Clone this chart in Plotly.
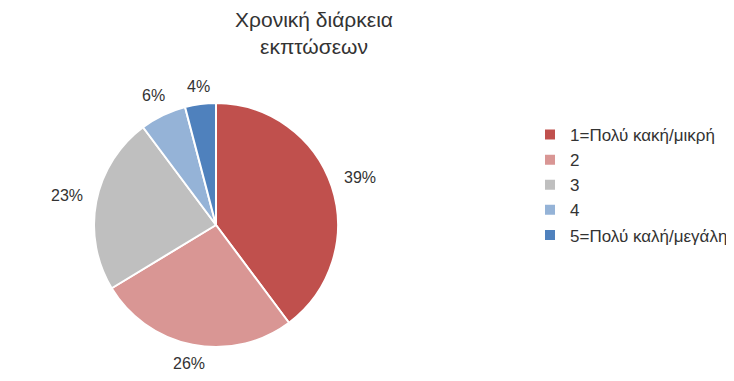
import math
import plotly.graph_objects as go

labels = ["1=Πολύ κακή/μικρή", "2", "3", "4", "5=Πολύ καλή/μεγάλη"]
values = [39, 26, 23, 6, 4]
colors = ["#c0504d", "#d99694", "#bfbfbf", "#95b3d7", "#4f81bd"]

W, H = 734, 381
cx, cy, r = 208, 217, 122

fig = go.Figure(go.Pie(
    labels=labels,
    values=values,
    sort=False,
    direction="clockwise",
    rotation=0,
    marker=dict(colors=colors, line=dict(color="white", width=2)),
    textinfo="none",
    hoverinfo="label+percent",
    domain=dict(x=[(cx - r) / W, (cx + r) / W], y=[(H - cy - r) / H, (H - cy + r) / H]),
    showlegend=True,
))

# percentage labels placed outside each slice at its mid-angle (derived from the data)
total = sum(values)
cum = 0
annotations = []
for v in values:
    mid = (cum + v / 2) / total * 2 * math.pi
    cum += v
    s, c = math.sin(mid), math.cos(mid)
    d = r + 16 + 14 * abs(s)
    px = cx + d * s
    py = cy - d * c
    annotations.append(dict(
        x=px / W, y=1 - py / H, xref="paper", yref="paper",
        text=f"{v}%", showarrow=False, xanchor="center", yanchor="middle",
        font=dict(family="Liberation Sans", size=16, color="#333333"),
    ))

fig.update_layout(
    width=W, height=H,
    margin=dict(l=0, r=0, t=0, b=0),
    paper_bgcolor="white",
    plot_bgcolor="white",
    annotations=annotations,
    title=dict(
        text="Χρονική διάρκεια<br>εκπτώσεων",
        x=306 / W, xanchor="center",
        y=1 - 19 / H, yanchor="top",
        font=dict(family="Liberation Sans", size=21, color="#333333"),
    ),
    legend=dict(
        x=522 / W, xanchor="left",
        y=1 - 109 / H, yanchor="top",
        font=dict(family="Liberation Sans", size=17, color="#333333"),
        itemwidth=30,
        tracegroupgap=0,
    ),
)

fig.write_html("out.html")
